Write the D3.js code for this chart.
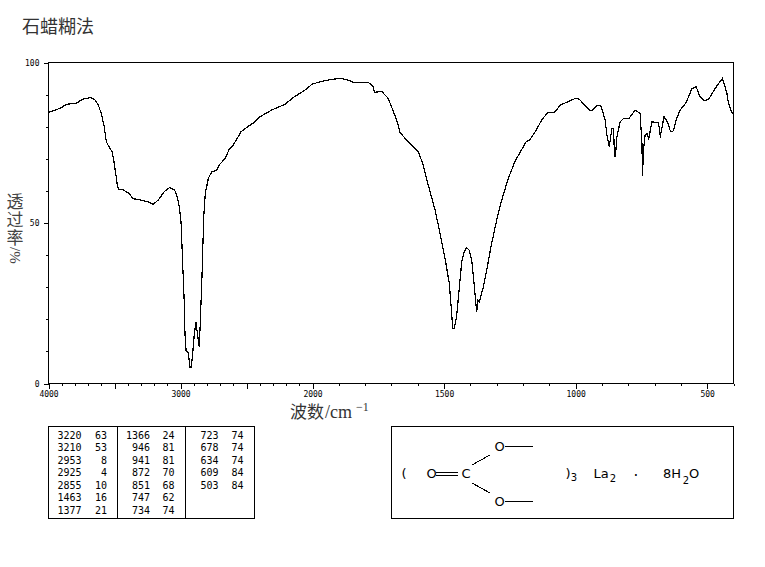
<!DOCTYPE html>
<html><head><meta charset="utf-8">
<script src="https://cdn.jsdelivr.net/npm/d3@7"></script>
<style>
html,body{margin:0;padding:0;background:#fff}
svg{display:block}
text{fill:#000}
</style></head><body>
<svg id="c" width="765" height="567"></svg>
<script>
const wavenumbers=[4000,3953,3903,3865,3789,3744,3683,3650,3625,3600,3580,3562,3549,3519,3506,3489,3479,3468,3436,3390,3360,3297,3246,3208,3170,3120,3082,3044,3024,3009,2996,2983,2973,2966,2958,2941,2928,2918,2908,2895,2883,2875,2858,2850,2837,2824,2812,2789,2764,2726,2702,2660,2633,2600,2542,2498,2436,2398,2309,2208,2145,2057,2001,1952,1895,1864,1845,1788,1771,1764,1737,1712,1695,1680,1667,1642,1617,1598,1579,1560,1534,1515,1496,1480,1472,1467,1461,1452,1443,1433,1424,1414,1404,1394,1386,1376,1371,1366,1351,1338,1322,1300,1281,1256,1230,1199,1188,1173,1148,1129,1107,1078,1059,1021,998,986,944,935,917,903,888,881,872,862,856,852,849,843,831,818,797,774,755,748,746,742,736,729,722,710,685,679,678,664,651,639,628,618,603,580,558,542,527,511,495,470,442,425,419,406,400];
const transmittance=[84.5,85.1,85.9,87.0,87.3,88.5,89.1,88.4,87.0,84.1,80.5,75.3,74.3,72.2,69.6,64.9,61.8,60.5,60.4,59.2,57.6,57.1,56.6,55.8,57.1,59.9,61.1,60.2,58.1,55.0,50.3,36.8,26.9,15.5,10.3,9.5,5.1,5.1,9.3,15.5,19.1,16.5,11.5,19.1,33.7,51.9,59.2,63.9,65.9,66.5,68.3,70.2,72.8,74.3,78.4,79.8,81.5,83.1,85.2,87.0,89.1,91.4,93.3,94.4,95.1,94.5,93.8,93.8,92.7,90.7,91.0,88.8,85.2,82.1,78.2,75.8,73.7,72.2,68.0,61.8,54.0,46.7,38.9,31.1,22.8,17.1,17.1,21.2,29.0,37.8,41.0,42.3,41.5,37.8,31.1,22.2,25.9,25.4,30.0,35.3,42.5,50.9,57.1,63.9,69.3,73.7,75.3,76.0,79.2,82.1,84.3,84.6,86.7,88.1,88.9,88.5,85.0,85.2,86.7,86.4,82.1,77.4,73.8,79.5,79.5,70.6,70.6,76.8,81.5,82.6,82.6,85.2,84.1,74.8,64.7,72.7,77.4,77.9,76.3,81.5,81.3,77.4,77.2,83.1,81.5,78.4,78.7,82.1,85.2,87.5,91.9,92.4,89.3,88.1,88.5,91.9,95.1,90.4,87.3,84.3,84.1];
const xLabelled=[4000,3000,2000,1500,1000,500];
const xMajor=[4000,3500,3000,2500,2000,1500,1000,500];
const xMinor=d3.range(400,4000,100).filter(v=>!xMajor.includes(v));
const yLabelled=[0,50,100];
const yTicks=d3.range(0,101,10);
const peakWave=[["3220","3210","2953","2925","2855","1463","1377"],["1366","946","941","872","851","747","734"],["723","678","634","609","503"]];
const peakT=[["63","53","8","4","10","16","21"],["24","81","81","70","68","62","74"],["74","74","74","84","84"]];
const titleText="石蜡糊法";
const yTitleText="透过率";

const svg=d3.select("#c");
const x=d3.scaleLinear().domain([4000,2000,400]).range([48.5,312.5,733.5]);
const y=d3.scaleLinear().domain([0,100]).range([383.5,62.5]);
const mono='"DejaVu Sans Mono",monospace';
const cjk='"Noto Sans CJK SC",sans-serif';
const fix=g=>{g.select(".domain").remove();g.selectAll("line").attr("stroke","#000").attr("shape-rendering","crispEdges");
 g.selectAll("text").attr("font-family",mono).attr("fill","#000");};

svg.append("rect").attr("x",48.5).attr("y",62.5).attr("width",685).attr("height",321)
 .attr("fill","none").attr("stroke","#000").attr("shape-rendering","crispEdges");

svg.append("g").attr("transform","translate(0,383.5)")
 .call(d3.axisBottom(x).tickValues(xMinor).tickSize(2).tickFormat("")).call(fix);
svg.append("g").attr("transform","translate(0,383.5)")
 .call(d3.axisBottom(x).tickValues(xMajor).tickSize(5).tickPadding(3).tickFormat(v=>xLabelled.includes(v)?v:"")).call(fix)
 .selectAll("text").attr("font-size",8);
svg.append("g").attr("transform","translate(48.5,0)")
 .call(d3.axisLeft(y).tickValues(yTicks).tickSize(3).tickPadding(6).tickFormat(v=>yLabelled.includes(v)?v:"")).call(fix)
 .selectAll("text").attr("font-size",8);
svg.append("g").attr("transform","translate(48.5,0)")
 .call(d3.axisLeft(y).tickValues(yLabelled).tickSize(5).tickFormat("")).call(fix);

const line=d3.line().x(d=>x(d[0])).y(d=>y(d[1]));
svg.append("path").datum(d3.zip(wavenumbers,transmittance)).attr("d",line)
 .attr("fill","none").attr("stroke","#000").attr("stroke-width",1.2).attr("shape-rendering","crispEdges");

svg.append("text").text(titleText).attr("x",22).attr("y",33).attr("font-family",cjk).attr("font-size",18).style("fill","#333");

svg.append("text").text(yTitleText).attr("x",15).attr("y",193)
 .style("writing-mode","vertical-rl").style("text-orientation","upright").style("letter-spacing","1px")
 .attr("font-family",cjk).attr("font-size",17).style("fill","#444");
svg.append("text").text("/%").attr("transform","translate(10,247) rotate(90)")
 .attr("font-family",'"Liberation Serif",serif').attr("font-size",15).style("fill","#444");

const xT=svg.append("g");
xT.append("text").text("波数").attr("x",290).attr("y",418).attr("font-family",cjk).attr("font-size",17).style("fill","#333");
xT.append("text").text("/cm").attr("x",325).attr("y",418).attr("font-family",'"Liberation Serif",serif').attr("font-size",18).style("fill","#333");
xT.append("text").text("−1").attr("x",356).attr("y",411).attr("font-family",'"Liberation Serif",serif').attr("font-size",12).style("fill","#333");

// peak table
const tbl=svg.append("g");
tbl.append("rect").attr("x",48.5).attr("y",426.5).attr("width",206).attr("height",92).attr("fill","none").attr("stroke","#000").attr("shape-rendering","crispEdges");
[117.5,185.5].forEach(v=>tbl.append("line").attr("x1",v).attr("x2",v).attr("y1",426.5).attr("y2",518.5).attr("stroke","#000").attr("shape-rendering","crispEdges"));
const colW=[81.5,150,218.5],colT=[107,174.5,243.5];
peakWave.forEach((col,i)=>col.forEach((w,j)=>{
 const yy=438.8+j*12.5;
 tbl.append("text").text(w).attr("x",colW[i]).attr("y",yy).attr("text-anchor","end").attr("font-family",mono).attr("font-size",10);
 tbl.append("text").text(peakT[i][j]).attr("x",colT[i]).attr("y",yy).attr("text-anchor","end").attr("font-family",mono).attr("font-size",10);
}));

// structure
const st=svg.append("g").attr("font-family",'"DejaVu Sans",sans-serif').attr("font-size",13);
st.append("rect").attr("x",391.5).attr("y",426.5).attr("width",342).attr("height",92).attr("fill","none").attr("stroke","#000").attr("shape-rendering","crispEdges");
const T=(s,a,b,fs)=>{const t=st.append("text").text(s).attr("x",a).attr("y",b).attr("text-anchor","middle");if(fs)t.attr("font-size",fs);};
const L=(a,b,c,d)=>st.append("line").attr("x1",a).attr("y1",b).attr("x2",c).attr("y2",d).attr("stroke","#000").attr("shape-rendering","crispEdges");
T("(",404,478); T("O",431.5,478); T("C",466,478); T("O",499.5,451); T("O",499.5,506);
L(436,472,458,472);L(436,475,458,475);
L(505,446.5,533,446.5);L(505,501.5,533,501.5);
L(472,465,490,455);L(472,483,490,493);
T(")",568,478); T("3",574,481,10);
T("La",601,478); T("2",613,482,10);
T("·",636,481,15);
T("8H",672,478); T("2",686,484,10); T("O",694,478);
</script>
</body></html>
